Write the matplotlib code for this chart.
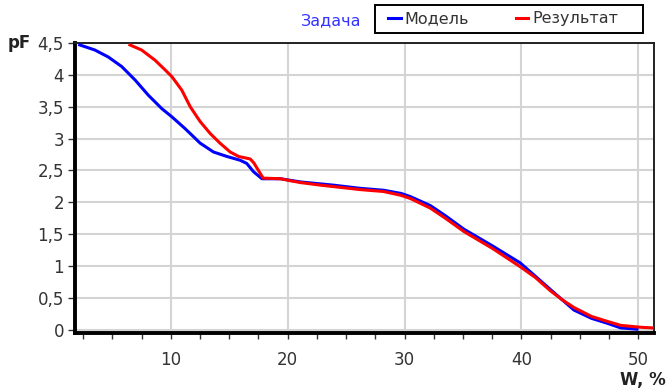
import numpy as np
import matplotlib.pyplot as plt
from matplotlib.ticker import MultipleLocator, FuncFormatter
from matplotlib.lines import Line2D
from matplotlib.patches import Rectangle

plt.rcParams['font.family'] = ['DejaVu Sans']

# Модель (blue)
w_model = [2.2, 3.5, 4.65, 5.8, 6.94, 8.08, 9.23, 10.1, 11.2, 11.94, 12.5, 13.65, 14.8,
           15.94, 16.5, 17.08, 17.8, 19.4, 21.1, 23.9, 26.2, 28.2, 29.7, 30.5, 32.2,
           33.5, 35.07, 37.5, 39.9, 41.2, 42.5, 43.5, 44.5, 46.0, 47.4, 48.5, 49.9]
pf_model = [4.47, 4.39, 4.28, 4.13, 3.92, 3.68, 3.47, 3.34, 3.16, 3.03, 2.93, 2.79, 2.72,
            2.66, 2.61, 2.48, 2.37, 2.37, 2.32, 2.27, 2.22, 2.19, 2.14, 2.09, 1.95,
            1.79, 1.58, 1.32, 1.05, 0.84, 0.63, 0.47, 0.31, 0.18, 0.10, 0.03, 0.01]

# Результат (red)
w_result = [6.5, 7.5, 8.65, 9.5, 10.1, 10.94, 11.66, 12.5, 13.37, 14.2, 15.08, 15.8, 16.8,
            17.1, 17.9, 19.4, 20.2, 21.1, 22.8, 26.2, 28.2, 29.7, 30.5, 32.2, 33.5, 35.1,
            37.5, 39.9, 41.2, 42.5, 43.5, 44.5, 46.0, 47.4, 48.5, 50.2, 51.2]
pf_result = [4.47, 4.39, 4.23, 4.08, 3.97, 3.76, 3.5, 3.27, 3.08, 2.93, 2.79, 2.72, 2.68,
             2.62, 2.38, 2.37, 2.34, 2.31, 2.27, 2.20, 2.17, 2.11, 2.06, 1.91, 1.75, 1.54,
             1.28, 0.99, 0.82, 0.61, 0.47, 0.35, 0.21, 0.13, 0.07, 0.04, 0.03]

x_ticks = [10, 20, 30, 40, 50]
y_ticks = [0, 0.5, 1, 1.5, 2, 2.5, 3, 3.5, 4, 4.5]

fig = plt.figure(figsize=(6.66, 3.89), dpi=100)
ax = fig.add_axes([75/666, 1-333/389, (654-75)/666, (333-43)/389])

ax.plot(w_model, pf_model, color='#0000ff', lw=2.2, zorder=3)
ax.plot(w_result, pf_result, color='#ff0000', lw=2.2, zorder=4)

ax.set_xlim(1.8, 51.35)
ax.set_ylim(-0.05, 4.5)
ax.set_xticks(x_ticks)
ax.set_yticks(y_ticks)
ax.xaxis.set_minor_locator(MultipleLocator(2.5))
ax.yaxis.set_minor_locator(MultipleLocator(0.1))
fmt = FuncFormatter(lambda v, p: ('%g' % v).replace('.', ','))
ax.yaxis.set_major_formatter(fmt)

ax.grid(True, which='major', color='#d4d4d4', lw=1.5, zorder=0)
ax.tick_params(axis='x', which='major', length=4, width=1, pad=9, labelsize=12,
               labelcolor='#333333', color='#333333')
ax.tick_params(axis='x', which='minor', length=4, width=1, color='#333333')
ax.tick_params(axis='y', which='major', length=5, width=1, pad=3, labelsize=12,
               labelcolor='#333333', color='#333333')
ax.tick_params(axis='y', which='minor', length=1.5, width=0.6, color='#999999')

for side in ['left', 'bottom']:
    ax.spines[side].set_linewidth(2.8)
    ax.spines[side].set_color('black')
for side in ['top', 'right']:
    ax.spines[side].set_linewidth(1.4)
    ax.spines[side].set_color('#222222')

fig.text(8/666, 1-43/389, 'pF', fontsize=12, fontweight='bold', color='#222222',
         ha='left', va='center')
fig.text(666/666, 1-380/389, 'W, %', fontsize=12, fontweight='bold', color='#222222',
         ha='right', va='center')
fig.text(331/666, 1-21/389, 'Задача', fontsize=11.5, color='#3333ff', ha='center', va='center')

handles = [Line2D([], [], color='#0000ff', lw=2.2), Line2D([], [], color='#ff0000', lw=2.2)]
leg = fig.legend(handles, ['Модель', 'Результат'], loc='center left',
                 bbox_to_anchor=(388/666, 1-19/389), ncol=2, handlelength=0.8,
                 handletextpad=0.25, columnspacing=2.9, fontsize=11.5,
                 frameon=False, borderpad=0, borderaxespad=0)
for t in leg.get_texts():
    t.set_color('#333333')
fig.patches.append(Rectangle((375/666, 1-33/389), 268/666, 28/389, transform=fig.transFigure,
                             fill=False, edgecolor='black', lw=1.4))

fig.savefig('out.png', dpi=100)
